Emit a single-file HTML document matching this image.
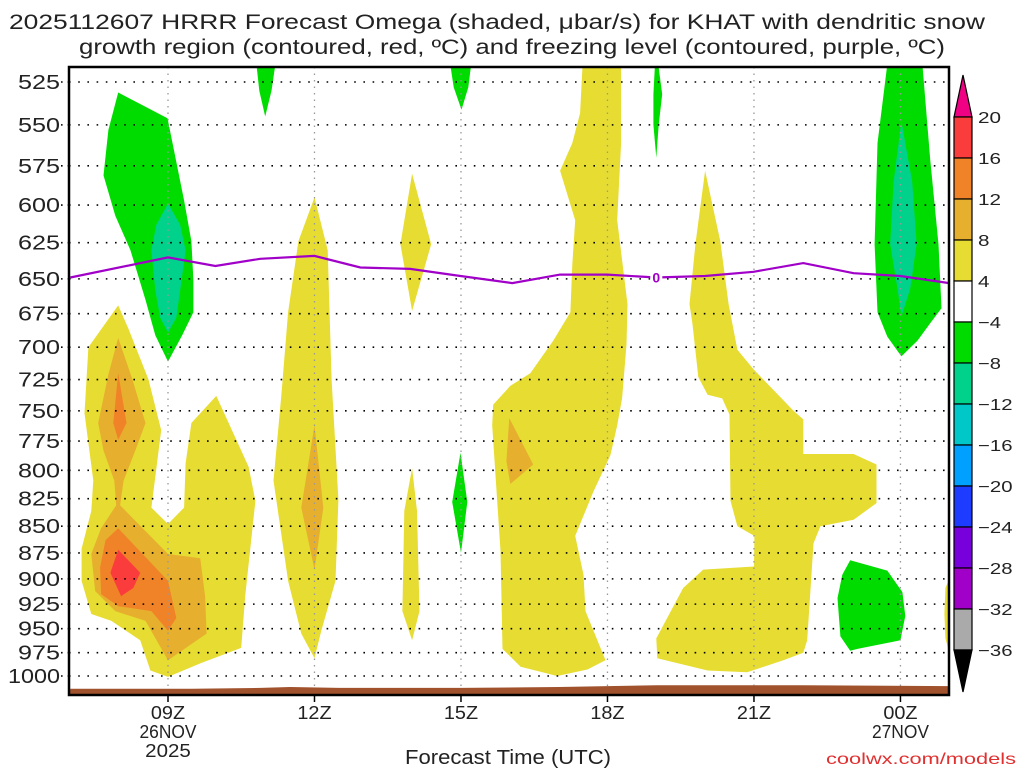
<!DOCTYPE html>
<html><head><meta charset="utf-8"><style>
html,body{margin:0;padding:0;background:#fff}
svg{display:block}
text{font-family:"Liberation Sans",sans-serif;fill:#222}
</style></head><body>
<svg id="chart" width="1024" height="768" viewBox="0 0 1024 768">
<text x="497" y="29" font-size="21" text-anchor="middle" textLength="976" lengthAdjust="spacingAndGlyphs">2025112607 HRRR Forecast Omega (shaded, μbar/s) for KHAT with dendritic snow</text>
<text x="512" y="54" font-size="21" text-anchor="middle" textLength="866" lengthAdjust="spacingAndGlyphs">growth region (contoured, red, ºC) and freezing level (contoured, purple, ºC)</text>
<g id="fills"></g>
<g id="grid"></g>
<g id="terrain"></g>
<g id="fz"></g>
<rect x="69" y="67" width="880" height="628" fill="none" stroke="#000" stroke-width="2.5"/>
<g id="yaxis"></g>
<g id="xaxis"></g>
<text x="508" y="764" font-size="20" text-anchor="middle" textLength="206" lengthAdjust="spacingAndGlyphs">Forecast Time (UTC)</text>
<text x="1016" y="764" font-size="16" text-anchor="end" textLength="190" lengthAdjust="spacingAndGlyphs" style="fill:#e03030">coolwx.com/models</text>
<g id="cbar"></g>
</svg>
<script>
const NS='http://www.w3.org/2000/svg';
const pTicks=[525,550,575,600,625,650,675,700,725,750,775,800,825,850,875,900,925,950,975,1000];
const hourTicks=[9,12,15,18,21,24];
const hourLabels=['09Z','12Z','15Z','18Z','21Z','00Z'];
const dateLabels={9:['26NOV','2025'],24:['27NOV']};
const cbLevels=[20,16,12,8,4,-4,-8,-12,-16,-20,-24,-28,-32,-36];
const cbColors=['#fa3c3c','#f08228','#e6af2d','#e6dc32','#ffffff','#00dc00','#00d28c','#00c8c8','#00a0ff','#1e3cff','#7800dc','#a000c8','#aaaaaa'];
const fzHours=[7,9,9.97,10.89,12,12.94,13.96,14.99,16.05,17.03,18,19,20,20.99,22.01,23.04,24,25];
const fzP=[649,635,641,636,634,642,643,648,653,647,647,649,648,645,639,646,648,653];
const sfcH=[7,9.5,10.9,11.5,12.5,15,17,18,19,22,25];
const sfcP=[1014,1014,1013,1012,1013,1013,1012,1011,1010,1010,1011];
const yellowAreas=[
[[7.98,669],[7.37,700],[7.29,752],[7.47,809],[7.43,836],[7.23,871],[7.23,902],[7.43,935],[7.84,942],[8.43,962],[8.64,994],[9.0,1001],[9.68,986],[10.5,970],[10.58,917],[10.79,827],[10.65,797],[9.99,738],[9.48,760],[9.36,794],[9.33,833],[9.0,848],[8.66,833],[8.86,766],[8.6,725],[8.19,686]],
[[12.0,595],[12.27,630],[12.35,725],[12.49,826],[12.43,902],[12.14,952],[12.0,981],[11.73,955],[11.46,902],[11.16,809],[11.32,738],[11.46,674],[11.67,624]],
[[14.0,580],[14.39,626],[14.0,673],[13.76,626]],
[[14.0,798],[14.1,836],[14.15,932],[14.0,962],[13.8,932],[13.84,836]],
[[17.49,515],[18.28,515],[18.28,561],[18.2,610],[18.41,668],[18.39,698],[18.3,740],[18.2,762],[18.06,787],[17.71,819],[17.34,859],[17.51,896],[17.55,932],[17.96,983],[17.59,993],[16.97,1000],[16.22,990],[15.85,971],[15.81,873],[15.64,762],[15.66,745],[16.01,730],[16.42,720],[16.89,695],[17.24,674],[17.28,640],[17.34,610],[17.03,578],[17.28,561],[17.44,543]],
[[20.0,578],[20.31,624],[20.48,668],[20.66,702],[20.99,717],[21.81,750],[22.01,757],[22.01,786],[23.04,786],[23.51,795],[23.51,829],[23.04,844],[22.36,850],[22.22,866],[22.09,962],[22.01,975],[21.6,983],[20.86,996],[20.05,994],[19.02,981],[19.0,960],[19.55,909],[19.96,891],[21.0,888],[21.01,859],[20.66,850],[20.52,827],[20.5,753],[20.35,740],[20.05,737],[19.86,723],[19.74,682],[19.68,668],[19.8,626]],
[[24.92,909],[25.0,900],[25.0,975],[24.92,960],[24.9,935]]
];
const ltOrangeAreas=[
[[7.98,693],[8.27,725],[8.54,760],[8.33,783],[8.09,809],[8.02,831],[9.0,876],[9.66,880],[9.76,917],[9.79,955],[9.0,983],[8.54,942],[7.92,932],[7.51,912],[7.43,876],[7.63,852],[7.94,831],[7.9,809],[7.68,783],[7.57,760],[7.78,721]],
[[12.0,762],[12.18,833],[12.0,891],[11.73,833]],
[[15.99,756],[16.48,795],[16.01,812],[15.93,792]]
];
const orangeAreas=[
[[7.98,720],[8.15,760],[7.98,774],[7.88,760]],
[[7.98,852],[8.6,882],[9.0,902],[9.17,939],[9.0,952],[8.66,932],[7.98,927],[7.63,915],[7.61,889],[7.72,863]]
];
const redAreas=[[[7.98,872],[8.43,894],[8.29,909],[8.04,917],[7.82,894]]];
const greenAreas=[
[[7.98,531],[8.99,546],[9.33,597],[9.48,624],[9.52,651],[9.52,674],[9.29,691],[9.0,711],[8.74,691],[8.54,665],[8.23,630],[7.92,607],[7.68,581],[7.78,553]],
[[10.81,515],[11.2,515],[11.12,530],[10.99,545],[10.87,530]],
[[14.78,515],[15.21,515],[15.15,528],[15.01,541],[14.85,528]],
[[18.97,517],[19.05,517],[19.12,532],[19.05,550],[19.0,570],[18.94,550],[18.94,532]],
[[14.99,785],[15.13,828],[15.0,875],[14.82,828]],
[[23.73,515],[24.45,515],[24.61,571],[24.78,626],[24.84,671],[24.61,682],[24.35,695],[24.02,707],[23.73,692],[23.53,674],[23.47,626],[23.53,561]],
[[22.97,882],[23.73,892],[24.04,913],[24.1,937],[24.0,962],[23.12,971],[22.97,973],[22.77,958],[22.71,919],[22.81,896]]
];
const tealAreas=[
[[9.0,599],[9.25,613],[9.36,630],[9.25,658],[9.17,678],[9.0,689],[8.84,678],[8.74,658],[8.66,630],[8.76,613]],
[[24.02,548],[24.24,585],[24.33,626],[24.2,657],[24.02,677],[23.94,657],[23.79,626],[23.86,585]]
];

const X0=69,X1=949,Y0=67,Y1=695;
function xs(h){return 168+(h-9)*48.83;}
function ys(p){return 82+594*Math.log(p/525)/Math.log(1000/525);}
function mk(tag,attrs,parent){const e=document.createElementNS(NS,tag);for(const k in attrs)e.setAttribute(k,attrs[k]);parent.appendChild(e);return e;}
const fills=document.getElementById('fills');
const cp=mk('clipPath',{id:'pc'},fills);
mk('rect',{x:X0,y:Y0,width:X1-X0,height:Y1-Y0},cp);
fills.setAttribute('clip-path','url(#pc)');
function drawAreas(list,color,name){list.forEach(poly=>{
  const el=mk('polygon',{points:poly.map(q=>xs(q[0]).toFixed(1)+','+ys(Math.min(q[1],1030)).toFixed(1)).join(' '),fill:color},fills);
  
  
});}
drawAreas(yellowAreas,'#e6dc32','omega-4-8-area');
drawAreas(ltOrangeAreas,'#e6af2d','omega-8-12-area');
drawAreas(orangeAreas,'#f08228','omega-12-16-area');
drawAreas(redAreas,'#fa3c3c','omega-16-20-area');
drawAreas(greenAreas,'#00dc00','omega-neg4-neg8-area');
drawAreas(tealAreas,'#00d28c','omega-neg8-neg12-area');

const grid=document.getElementById('grid');
pTicks.forEach(p=>{const y=ys(p);
  const l=mk('line',{x1:X0,x2:X1,y1:y,y2:y,stroke:'#000','stroke-width':1.6,'stroke-dasharray':'1.6 7.6'},grid);
  
  
});
hourTicks.forEach(h=>{const x=xs(h);
  const l=mk('line',{x1:x,x2:x,y1:Y0,y2:Y1,stroke:'#999','stroke-width':1.3,'stroke-dasharray':'1.5 5'},grid);
  
  
});

const terr=document.getElementById('terrain');
let tp='M'+X0+','+Y1;
sfcH.forEach((h,i)=>{tp+=' L'+Math.max(X0,Math.min(X1,xs(h))).toFixed(1)+','+ys(sfcP[i]).toFixed(1);});
tp+=' L'+X1+','+Y1+' Z';
const tpath=mk('path',{d:tp,fill:'#a0522d'},terr);



const fz=document.getElementById('fz');
const fzPath=mk('polyline',{points:fzHours.map((h,i)=>xs(h).toFixed(1)+','+ys(fzP[i]).toFixed(1)).join(' '),fill:'none',stroke:'#a000c8','stroke-width':2.2},fz);


const lx=xs(19),ly=ys(649);
const lbg=mk('rect',{x:lx-6,y:ly-7,width:12,height:14,fill:'#fff'},fz);


const lt=mk('text',{x:lx,y:ly+5,'font-size':14,'text-anchor':'middle','font-weight':'bold',style:'fill:#a000c8'},fz);
lt.textContent='0';



const ya=document.getElementById('yaxis');
pTicks.forEach(p=>{const y=ys(p);
  const s=String(p);
  const t=mk('text',{x:60,y:y+7,'font-size':20,'text-anchor':'end',textLength:s.length===4?52:42,lengthAdjust:'spacingAndGlyphs'},ya);
  t.textContent=s;
  
  
  const k=mk('line',{x1:61,x2:69,y1:y,y2:y,stroke:'#000','stroke-width':1.6,'stroke-dasharray':'1.6 5'},ya);
  
  
});
const xa=document.getElementById('xaxis');
hourTicks.forEach((h,i)=>{const x=xs(h);
  const k=mk('line',{x1:x,x2:x,y1:Y1,y2:Y1+7,stroke:'#000','stroke-width':1.5},xa);
  
  
  const lines=[hourLabels[i]].concat(dateLabels[h]||[]);
  lines.forEach((s,j)=>{
    const t=mk('text',{x:x,y:719+j*19,'font-size':18,'text-anchor':'middle',textLength:s.length*11.4,lengthAdjust:'spacingAndGlyphs'},xa);
    t.textContent=s;
    
    
  });
});

const cb=document.getElementById('cbar');
const cbX=954,cbW=18,cbTop=117,cbStep=41;
const up=mk('polygon',{points:`${cbX},${cbTop} ${cbX+cbW},${cbTop} ${cbX+cbW/2},${cbTop-42}`,fill:'#f00082',stroke:'#000','stroke-width':1.2},cb);


cbColors.forEach((c,i)=>{
  const r=mk('rect',{x:cbX,y:cbTop+i*cbStep,width:cbW,height:cbStep,fill:c,stroke:'#000','stroke-width':1.2},cb);
  
  
});
const bot=cbTop+cbColors.length*cbStep;
const dn=mk('polygon',{points:`${cbX},${bot} ${cbX+cbW},${bot} ${cbX+cbW/2},${bot+42}`,fill:'#000',stroke:'#000','stroke-width':1.2},cb);


cbLevels.forEach((v,i)=>{
  const s=v<0?'\u2212'+(-v):String(v);
  const t=mk('text',{x:978,y:cbTop+i*cbStep+6,'font-size':16,textLength:s.length*11.5,lengthAdjust:'spacingAndGlyphs'},cb);
  t.textContent=s;
  
  
});
</script>
</body></html>
